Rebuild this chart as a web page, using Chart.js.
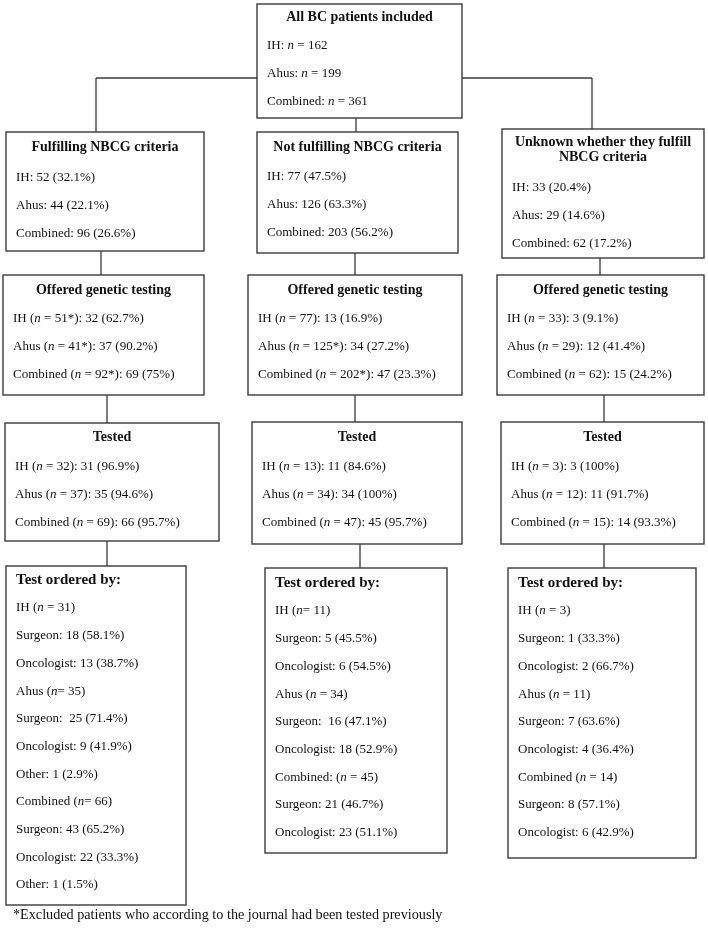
<!DOCTYPE html>
<html>
<head>
<meta charset="utf-8">
<script src="https://cdn.jsdelivr.net/npm/chart.js@4/dist/chart.umd.min.js"></script>
<style>
  html, body { margin: 0; padding: 0; background: #fff; }
  #flow { display: block; }
</style>
</head>
<body>
<canvas id="flow" width="708" height="931"></canvas>
<script>
// ---- data (underscores mark italic n) ----
const sites = ['IH', 'Ahus', 'Combined'];
const siteTotals = [162, 199, 361];

const groups = ['Fulfilling NBCG criteria', 'Not fulfilling NBCG criteria', 'Unknown whether they fulfill|NBCG criteria'];
const groupCounts = [[52, 44, 96], [77, 126, 203], [33, 29, 62]];
const groupPct = [['32.1', '22.1', '26.6'], ['47.5', '63.3', '56.2'], ['20.4', '14.6', '17.2']];

const offeredBase = [['51*', '41*', '92*'], ['77', '125*', '202*'], ['33', '29', '62']];
const offeredCounts = [[32, 37, 69], [13, 34, 47], [3, 12, 15]];
const offeredPct = [['62.7', '90.2', '75'], ['16.9', '27.2', '23.3'], ['9.1', '41.4', '24.2']];

const testedCounts = [[31, 35, 66], [11, 34, 45], [3, 11, 14]];
const testedPct = [['96.9', '94.6', '95.7'], ['84.6', '100', '95.7'], ['100', '91.7', '93.3']];

const orderedLines = [
  ['IH (_n_ = 31)', 'Surgeon: 18 (58.1%)', 'Oncologist: 13 (38.7%)', 'Ahus (_n_= 35)', 'Surgeon:  25 (71.4%)',
   'Oncologist: 9 (41.9%)', 'Other: 1 (2.9%)', 'Combined (_n_= 66)', 'Surgeon: 43 (65.2%)', 'Oncologist: 22 (33.3%)', 'Other: 1 (1.5%)'],
  ['IH (_n_= 11)', 'Surgeon: 5 (45.5%)', 'Oncologist: 6 (54.5%)', 'Ahus (_n_ = 34)', 'Surgeon:  16 (47.1%)',
   'Oncologist: 18 (52.9%)', 'Combined: (_n_ = 45)', 'Surgeon: 21 (46.7%)', 'Oncologist: 23 (51.1%)'],
  ['IH (_n_ = 3)', 'Surgeon: 1 (33.3%)', 'Oncologist: 2 (66.7%)', 'Ahus (_n_ = 11)', 'Surgeon: 7 (63.6%)',
   'Oncologist: 4 (36.4%)', 'Combined (_n_ = 14)', 'Surgeon: 8 (57.1%)', 'Oncologist: 6 (42.9%)']
];
const footnote = '*Excluded patients who according to the journal had been tested previously';

// ---- layout ----
const FONT = '"Liberation Serif", "Times New Roman", serif';
const STEP = 27.7;
const boxes = [
  {x0: 257, x1: 462, y0: 4, y1: 118, ty: 17, ly: 46, title: 'All BC patients included',
   lines: sites.map((s, i) => s + ': _n_ = ' + siteTotals[i])}
];
const row2 = [[6, 204, 132, 251, 147, 178], [257, 458, 132, 253, 147, 177], [502, 704, 129, 258, 142, 188]];
const row3 = [[3, 204, 275, 395, 290, 319], [248, 462, 275, 395, 290, 319], [497, 704, 275, 395, 290, 319]];
const row4 = [[5, 219, 423, 541, 437, 467], [252, 462, 422, 544, 437, 467], [501, 704, 422, 544, 437, 467]];
const row5 = [[6, 186, 566, 905, 580, 608], [265, 447, 568, 853, 583, 611], [508, 696, 568, 858, 583, 611]];

function mk(r, title, lines, opts) {
  return Object.assign({x0: r[0], x1: r[1], y0: r[2], y1: r[3], ty: r[4], ly: r[5], title, lines}, opts || {});
}
for (let g = 0; g < 3; g++) {
  boxes.push(mk(row2[g], groups[g], sites.map((s, i) => s + ': ' + groupCounts[g][i] + ' (' + groupPct[g][i] + '%)')));
  boxes.push(mk(row3[g], 'Offered genetic testing',
    sites.map((s, i) => s + ' (_n_ = ' + offeredBase[g][i] + '): ' + offeredCounts[g][i] + ' (' + offeredPct[g][i] + '%)')));
  boxes.push(mk(row4[g], 'Tested',
    sites.map((s, i) => s + ' (_n_ = ' + offeredCounts[g][i] + '): ' + testedCounts[g][i] + ' (' + testedPct[g][i] + '%)')));
  boxes.push(mk(row5[g], 'Test ordered by:', orderedLines[g], {left: true, tsize: 15}));
}

// connectors [x1, y1, x2, y2], derived from box edges
const segs = [
  [356, 118, 356, 132],
  [96, 78, 257, 78], [462, 78, 592, 78],
  [96, 78, 96, 132], [592, 78, 592, 129]
];
[[101, 355, 600], [107, 355, 604], [107, 360, 604]].forEach((xs, k) => {
  const up = [row2, row3, row4][k], dn = [row3, row4, row5][k];
  xs.forEach((x, g) => segs.push([x, up[g][3], x, dn[g][2]]));
});

const datasets = segs.map(s => ({
  data: [{x: s[0], y: s[1]}, {x: s[2], y: s[3]}],
  showLine: true, borderColor: '#3a3a3a', borderWidth: 1.3, pointRadius: 0
}));

function fontOf(italic, bold, size) {
  return (italic ? 'italic ' : '') + (bold ? 'bold ' : '') + size + 'px ' + FONT;
}
function drawRich(ctx, str, x, y, size, bold, center) {
  const parts = str.split('_');
  let w = 0;
  parts.forEach((p, i) => { ctx.font = fontOf(i % 2 === 1, bold, size); w += ctx.measureText(p).width; });
  let cx = center ? x - w / 2 : x;
  parts.forEach((p, i) => {
    ctx.font = fontOf(i % 2 === 1, bold, size);
    ctx.fillText(p, cx, y);
    cx += ctx.measureText(p).width;
  });
}

const boxPlugin = {
  id: 'boxes',
  afterDatasetsDraw(chart) {
    const ctx = chart.ctx, sx = chart.scales.x, sy = chart.scales.y;
    ctx.save();
    ctx.textBaseline = 'middle';
    boxes.forEach(b => {
      const x0 = sx.getPixelForValue(b.x0), x1 = sx.getPixelForValue(b.x1);
      const y0 = sy.getPixelForValue(b.y0), y1 = sy.getPixelForValue(b.y1);
      ctx.fillStyle = '#fff';
      ctx.fillRect(x0, y0, x1 - x0, y1 - y0);
      ctx.strokeStyle = '#3a3a3a';
      ctx.lineWidth = 1.4;
      ctx.strokeRect(x0, y0, x1 - x0, y1 - y0);
      ctx.fillStyle = '#111';
      b.title.split('|').forEach((t, i) => {
        const ty = sy.getPixelForValue(b.ty + i * 15.5);
        if (b.left) drawRich(ctx, t, x0 + 10, ty, b.tsize || 14, true, false);
        else drawRich(ctx, t, (x0 + x1) / 2, ty, b.tsize || 14, true, true);
      });
      b.lines.forEach((l, i) => {
        drawRich(ctx, l, x0 + 10, sy.getPixelForValue(b.ly + i * STEP), 13, false, false);
      });
    });
    drawRich(ctx, footnote, sx.getPixelForValue(13), sy.getPixelForValue(915), 14.2, false, false);
    ctx.restore();
  }
};

new Chart(document.getElementById('flow'), {
  type: 'scatter',
  data: {datasets},
  options: {
    responsive: false,
    animation: false,
    devicePixelRatio: 1,
    layout: {padding: 0},
    plugins: {legend: {display: false}, tooltip: {enabled: false}},
    scales: {
      x: {type: 'linear', min: 0, max: 708, display: false},
      y: {type: 'linear', min: 0, max: 931, reverse: true, display: false}
    }
  },
  plugins: [boxPlugin]
});
</script>
</body>
</html>
